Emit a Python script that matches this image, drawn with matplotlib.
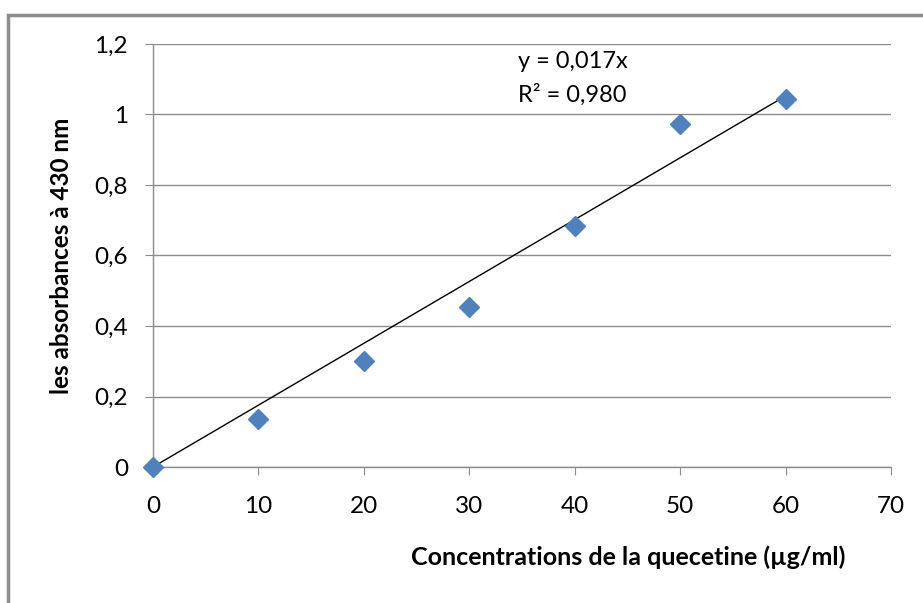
import numpy as np
import matplotlib
matplotlib.use("Agg")
import matplotlib.pyplot as plt
from matplotlib.ticker import FuncFormatter, MultipleLocator
from matplotlib.patches import Rectangle

concentrations = [0, 10, 20, 30, 40, 50, 60]
absorbances = [0.0, 0.135, 0.302, 0.455, 0.683, 0.973, 1.044]
equation_label = "y = 0,017x"
r2_label = "R² = 0,980"
xlabel = "Concentrations de la quecetine (µg/ml)"
ylabel = "les absorbances à 430 nm"

plt.rcParams['font.family'] = ['Lato', 'DejaVu Sans']

fig = plt.figure(figsize=(9.23, 6.03), dpi=100)
W, H = 923, 603
ax = fig.add_axes([153 / W, 1 - 467 / H, (891 - 153) / W, (467 - 44) / H])

grey = '#8c8c8c'
ax.set_xlim(0, 70)
ax.set_ylim(0, 1.2)
ax.xaxis.set_major_locator(MultipleLocator(10))
ax.yaxis.set_major_locator(MultipleLocator(0.2))
fmt = FuncFormatter(lambda v, p: ('%g' % round(v, 2)).replace('.', ','))
ax.xaxis.set_major_formatter(fmt)
ax.yaxis.set_major_formatter(fmt)
ax.grid(axis='y', color=grey, linewidth=1)
ax.set_axisbelow(True)
for s in ['top', 'right']:
    ax.spines[s].set_visible(False)
for s in ['left', 'bottom']:
    ax.spines[s].set_color(grey)
    ax.spines[s].set_linewidth(1)
ax.tick_params(axis='both', direction='out', length=6, color=grey, labelsize=17.5, labelcolor='black')
ax.tick_params(axis='x', pad=15)
ax.tick_params(axis='y', pad=12)

x = np.array(concentrations, dtype=float)
y = np.array(absorbances, dtype=float)
slope = np.sum(x * y) / np.sum(x * x)
xl = np.array([0, 60])
ax.plot(xl, slope * xl, color='black', linewidth=1, zorder=3)
ax.plot(x, y, linestyle='none', marker='D', markersize=10, color='#4F81BD', zorder=4, clip_on=False)

fig.text(518 / W, 1 - 62 / H, equation_label, fontsize=17, va='center', ha='left')
fig.text(518 / W, 1 - 95 / H, r2_label, fontsize=17, va='center', ha='left')

fig.text(628 / W, 1 - 557 / H, xlabel, fontsize=18, fontweight='bold', ha='center', va='center')
fig.text(62 / W, 1 - 256 / H, ylabel, fontsize=17.5, fontweight='bold', ha='center', va='center', rotation=90)

fig.patches.append(Rectangle((8 / W, -0.05), 1.1, 1 - 15 / H + 0.05, transform=fig.transFigure,
                             fill=False, edgecolor='#8c8c8c', linewidth=2.5, clip_on=False))

fig.savefig('out.png', dpi=100)
